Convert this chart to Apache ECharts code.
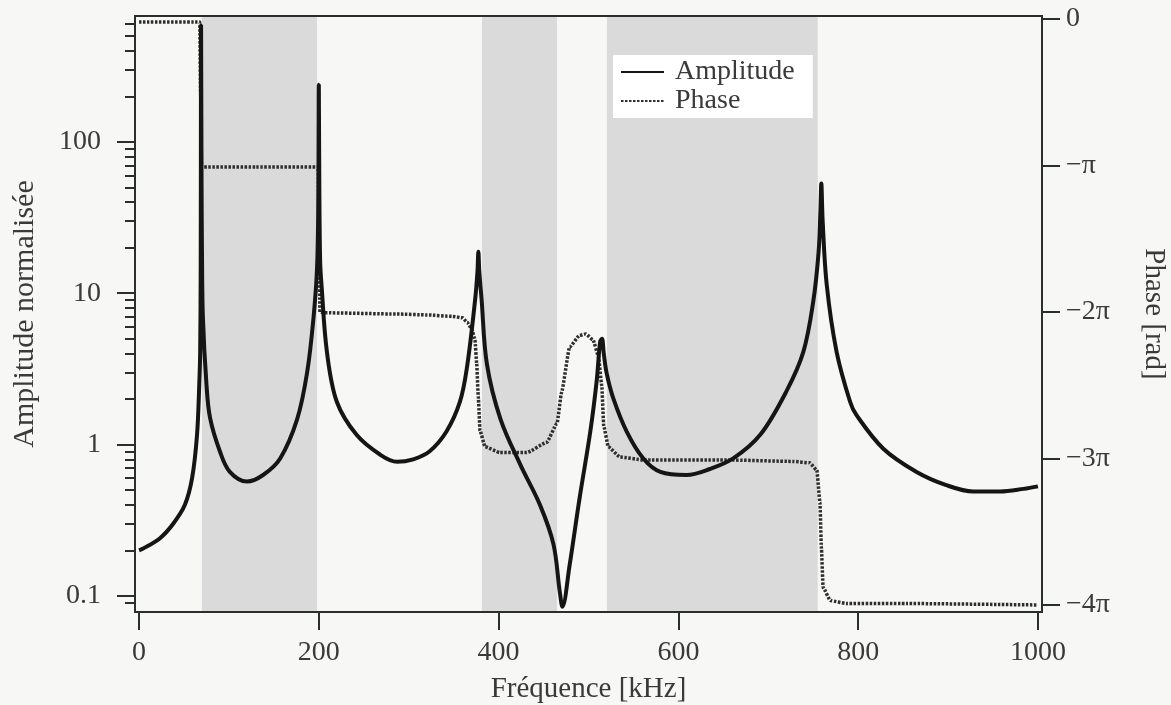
<!DOCTYPE html>
<html>
<head>
<meta charset="utf-8">
<script src="https://cdn.jsdelivr.net/npm/echarts@6/dist/echarts.min.js"></script>
<style>
  html, body { margin: 0; padding: 0; background: #f7f7f5; }
  #chart { width: 1171px; height: 705px; }
</style>
</head>
<body>
<div id="chart"></div>
<script>
// ---------- DATA ----------

// amplitude, normalised (log scale)
const ampFreq = [0, 4, 23, 38, 51, 59, 64.5, 67, 68, 68.6, 69, 69.5, 70, 71, 75, 79, 90, 101, 120, 138,
	157, 176, 187, 194, 198, 199.4, 200, 200.6, 201.5, 203, 209, 220, 242, 268, 287, 305, 323, 342, 357, 365,
	374, 376.5, 377.5, 378.5, 381, 387, 402, 424, 446, 461, 468, 471, 479, 490, 502, 509, 513, 515, 517, 520,
	527.6, 542.5, 561, 580, 609, 635, 661, 691, 720, 739, 750, 756, 758, 759, 760.5, 765, 776, 791, 798, 828,
	865, 898, 928, 958, 984, 1000];
const ampValue = [0.20, 0.205, 0.24, 0.30, 0.40, 0.60, 1.16, 2.5, 4.1, 15, 590, 60, 19, 7, 2.5, 1.5, 0.90, 0.66, 0.57, 0.63,
	0.81, 1.48, 3.0, 6.8, 14.6, 40, 238, 45, 16, 11.3, 4.1, 1.92, 1.16, 0.86, 0.77, 0.80, 0.90, 1.22, 1.92, 3.3,
	9.2, 14, 18.8, 14, 9.2, 3.4, 1.48, 0.74, 0.40, 0.22, 0.107, 0.085, 0.16, 0.44, 1.22, 2.6, 4.8, 5.0, 4.0, 3.0,
	2.02, 1.22, 0.81, 0.66, 0.63, 0.69, 0.81, 1.16, 2.24, 4.1, 8.8, 18.8, 35, 53, 30, 11.4, 4.1, 1.92, 1.57, 0.94,
	0.66, 0.54, 0.49, 0.49, 0.51, 0.53];

// phase, in multiples of pi
const phaseFreq = [0, 67.5, 68.5, 69.5, 70.5, 130, 199.3, 200.3, 201.2, 205,
	287, 320, 349, 360, 365, 370.4, 373.7, 375.6, 377.4, 379.3,
	384.9, 401.6, 431.3, 453.5, 465, 470, 479, 490, 497, 505,
	511, 514.7, 517, 522, 535, 561, 654, 728, 746, 754,
	757.5, 759, 761, 769, 787, 854, 1000];
const phaseValue = [-0.02, -0.02, -0.5, -1.0, -1.01, -1.01, -1.01, -1.5, -2.0, -2.005,
	-2.014, -2.02, -2.03, -2.04, -2.07, -2.12, -2.19, -2.35, -2.58, -2.81,
	-2.92, -2.96, -2.96, -2.89, -2.76, -2.55, -2.24, -2.16, -2.15, -2.19,
	-2.30, -2.50, -2.78, -2.92, -2.99, -3.01, -3.01, -3.02, -3.03, -3.08,
	-3.30, -3.60, -3.88, -3.97, -3.99, -3.99, -4.0];

// grey frequency bands (kHz)
const bandStart = [70, 381.5, 520.5];
const bandEnd = [198, 465, 755];

// tick labels
const freqTicks = [0, 200, 400, 600, 800, 1000];
const ampTicks = [0.1, 1, 10, 100];
const ampMinorTicks = [0.09, 0.2, 0.3, 0.4, 0.5, 0.6, 0.7, 0.8, 0.9, 2, 3, 4, 5, 6, 7, 8, 9,
	20, 30, 40, 50, 60, 70, 80, 90, 200, 300, 400, 500, 600];
const phaseTicks = [0, -1, -2, -3, -4];
const phaseTickLabels = ['0', '\u2212\u03c0', '\u22122\u03c0', '\u22123\u03c0', '\u22124\u03c0'];

// ---------- CHART ----------

const FONT = "'Liberation Serif', 'DejaVu Serif', serif";
const INK = '#2b2f2b';
const TEXT = '#3a3a3a';

var chart = echarts.init(document.getElementById('chart'));

const bands = bandStart.map((s, i) => [{ xAxis: s }, { xAxis: bandEnd[i] }]);

let option = {
	animation: false,
	backgroundColor: '#f7f7f5',
	textStyle: { fontFamily: FONT, color: TEXT },
	grid: {
		left: 135, right: 129, top: 16, bottom: 93,
		outerBoundsMode: 'none',
		containLabel: false,
		show: true,
		z: 5,
		backgroundColor: 'transparent',
		borderColor: INK,
		borderWidth: 2
	},
	legend: {
		orient: 'vertical',
		left: 613,
		top: 55,
		backgroundColor: '#ffffff',
		padding: [3, 18, 3, 7],
		itemWidth: 43,
		itemHeight: 14,
		itemGap: 1,
		itemStyle: { opacity: 0 },
		data: ['Amplitude', 'Phase'],
		textStyle: { fontFamily: FONT, fontSize: 28, color: TEXT, padding: [0, 0, 0, 6] }
	},
	xAxis: {
		type: 'value',
		position: 'bottom',
		min: -4.5,
		max: 1004.5,
		z: 4,
		name: 'Fréquence [kHz]',
		nameLocation: 'middle',
		nameGap: 63,
		nameTextStyle: { fontFamily: FONT, fontSize: 29, color: TEXT },
		axisLine: { onZero: false, lineStyle: { color: INK, width: 2 } },
		axisTick: { customValues: freqTicks, length: 18, lineStyle: { color: INK, width: 2 } },
		axisLabel: { customValues: freqTicks, fontSize: 28, color: TEXT, margin: 27, formatter: v => String(v) },
		splitLine: { show: false }
	},
	yAxis: [
		{
			type: 'log',
			logBase: 10,
			position: 'left',
			min: 0.0784,
			max: 678,
			z: 4,
			name: 'Amplitude normalisée',
			nameLocation: 'middle',
			nameGap: 95,
			nameTextStyle: { fontFamily: FONT, fontSize: 30, color: TEXT },
			axisLine: { show: true, onZero: false, lineStyle: { color: INK, width: 2 } },
			axisTick: { customValues: ampTicks, length: 18, lineStyle: { color: INK, width: 2 } },
			axisLabel: {
				customValues: ampTicks,
				fontSize: 28,
				color: TEXT,
				margin: 34,
				formatter: v => String(v)
			},
			splitLine: { show: false }
		},
		{
			type: 'log',
			logBase: 10,
			position: 'left',
			min: 0.0784,
			max: 678,
			z: 4,
			axisLine: { show: false, onZero: false },
			axisTick: { customValues: ampMinorTicks, length: 10, lineStyle: { color: INK, width: 2 } },
			axisLabel: { show: false },
			splitLine: { show: false }
		},
		{
			type: 'value',
			position: 'right',
			min: -4.048,
			max: 0.0205,
			z: 4,
			name: 'Phase [rad]',
			nameLocation: 'middle',
			nameRotate: -90,
			nameGap: 97,
			nameTextStyle: { fontFamily: FONT, fontSize: 29, color: TEXT },
			axisLine: { show: true, onZero: false, lineStyle: { color: INK, width: 2 } },
			axisTick: { customValues: phaseTicks, length: 18, lineStyle: { color: INK, width: 2 } },
			axisLabel: {
				customValues: phaseTicks,
				fontSize: 28,
				color: TEXT,
				margin: 24,
				formatter: v => phaseTickLabels[phaseTicks.indexOf(Math.round(v))]
			},
			splitLine: { show: false }
		}
	],
	series: [
		{
			name: 'Phase',
			type: 'line',
			yAxisIndex: 2,
			showSymbol: false,
			symbol: 'none',
			smooth: 0.15,
			smoothMonotone: 'x',
			z: 2,
			lineStyle: { color: '#2e2e2e', width: 3.5, type: [2.5, 1.5] },
			itemStyle: { color: '#2e2e2e' },
			data: phaseFreq.map((f, i) => [f, phaseValue[i]])
		},
		{
			name: 'Amplitude',
			type: 'line',
			yAxisIndex: 0,
			showSymbol: false,
			symbol: 'none',
			smooth: 0.35,
			z: 3,
			lineStyle: { color: '#151515', width: 4 },
			itemStyle: { color: '#151515' },
			markArea: {
				silent: true,
				z: 1,
				itemStyle: { color: '#dadada', opacity: 1 },
				data: bands
			},
			data: ampFreq.map((f, i) => [f, ampValue[i]])
		}
	]
};

chart.setOption(option);
</script>
</body>
</html>
